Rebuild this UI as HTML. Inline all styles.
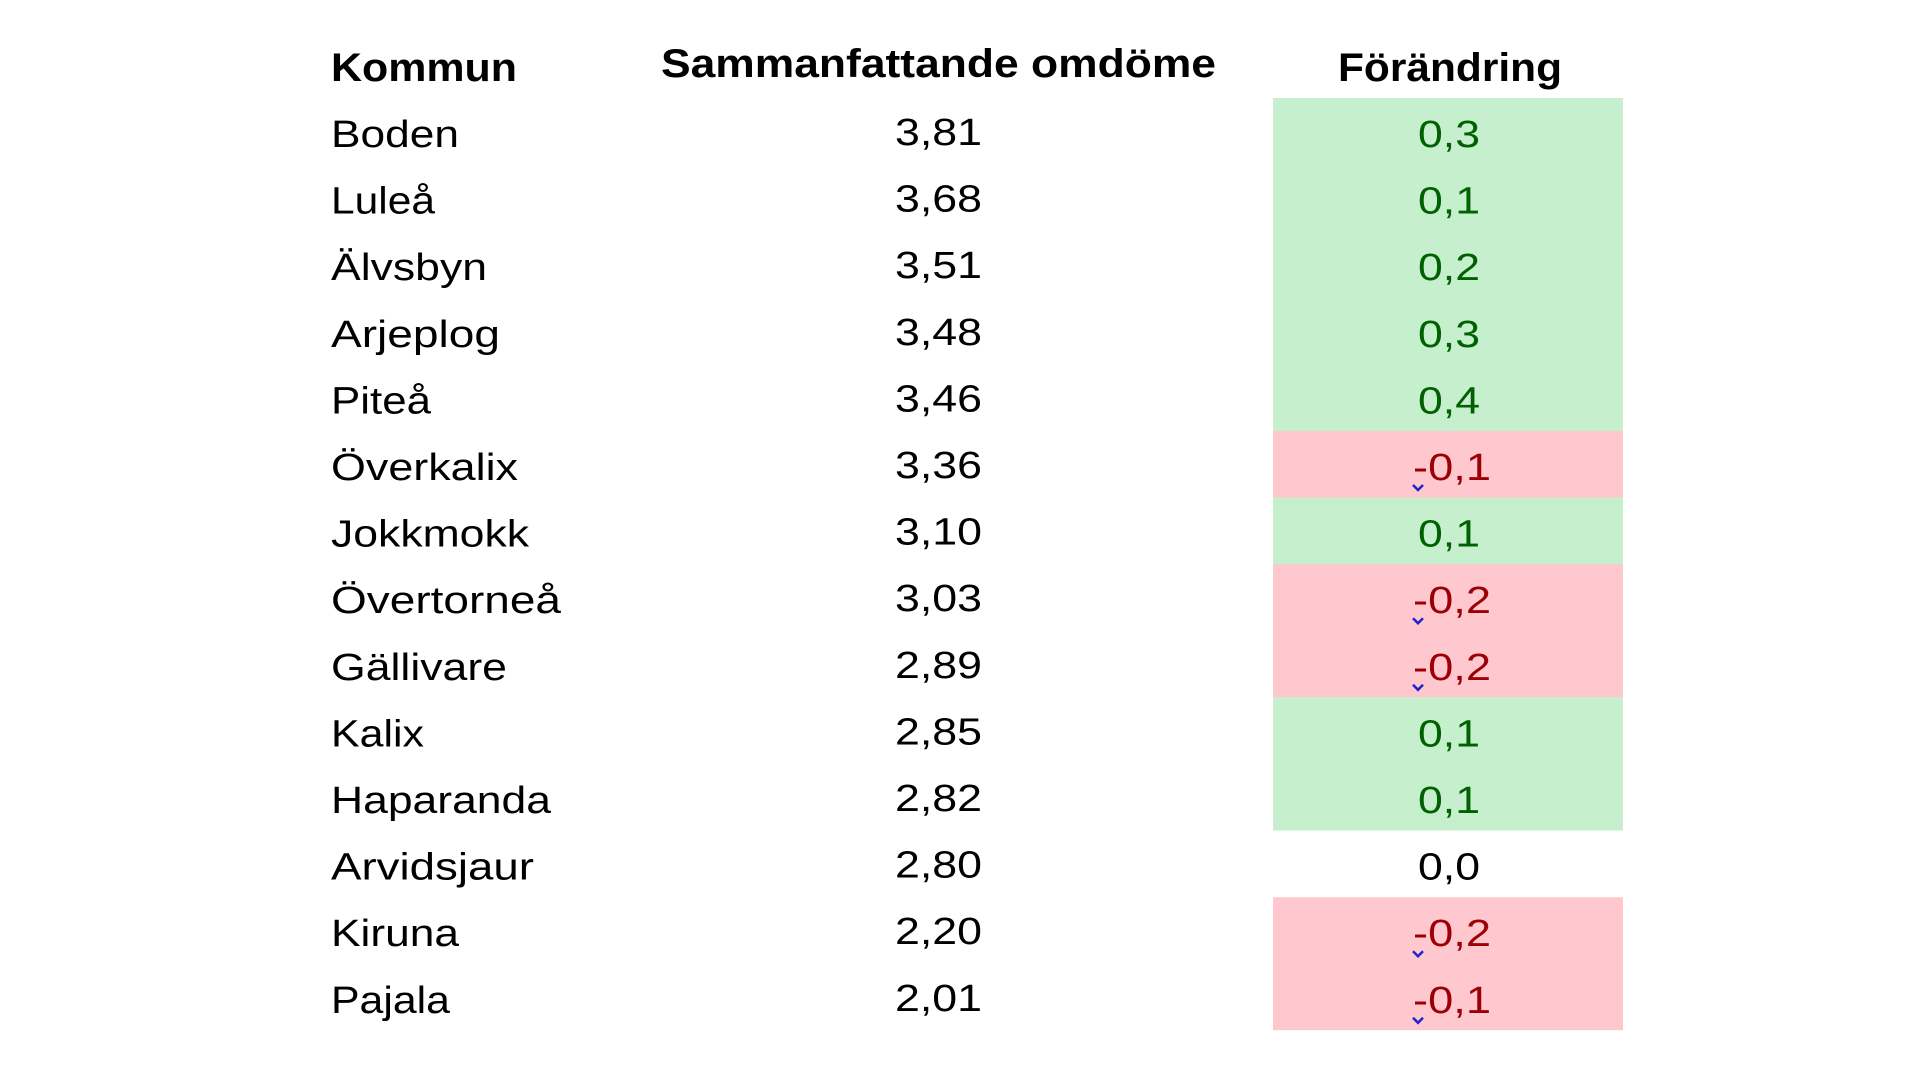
<!DOCTYPE html>
<html><head><meta charset="utf-8"><style>
html,body{margin:0;padding:0;background:#fff;}
svg{display:block;}
text{font-family:"Liberation Sans",sans-serif;}
</style></head><body>
<svg width="1920" height="1079" viewBox="0 0 1920 1079" xmlns="http://www.w3.org/2000/svg">
<rect width="1920" height="1079" fill="#fff"/>
<g font-weight="bold" font-size="40" fill="#000" transform="translate(0,-1)">
<text x="331" y="82" textLength="186" lengthAdjust="spacingAndGlyphs">Kommun</text>
<text x="661" y="78" textLength="555" lengthAdjust="spacingAndGlyphs">Sammanfattande omdöme</text>
<text x="1338" y="82" textLength="224" lengthAdjust="spacingAndGlyphs">Förändring</text>
</g>
<g>
<rect x="1273" y="98" width="350" height="333" fill="#c6efce"/>
<rect x="1273" y="431" width="350" height="67" fill="#ffc7ce"/>
<rect x="1273" y="497.6" width="350" height="67" fill="#c6efce"/>
<rect x="1273" y="564.2" width="350" height="133.2" fill="#ffc7ce"/>
<rect x="1273" y="697.4" width="350" height="133.2" fill="#c6efce"/>
<rect x="1273" y="897.2" width="350" height="133" fill="#ffc7ce"/>
</g>
<g transform="translate(0,-3)">
<g font-size="38" fill="#000">
<text x="331" y="150" textLength="128" lengthAdjust="spacingAndGlyphs">Boden</text>
<text x="331" y="216.6" textLength="104" lengthAdjust="spacingAndGlyphs">Luleå</text>
<text x="331" y="283.2" textLength="156" lengthAdjust="spacingAndGlyphs">Älvsbyn</text>
<text x="331" y="349.8" textLength="169" lengthAdjust="spacingAndGlyphs">Arjeplog</text>
<text x="331" y="416.4" textLength="100" lengthAdjust="spacingAndGlyphs">Piteå</text>
<text x="331" y="483" textLength="187" lengthAdjust="spacingAndGlyphs">Överkalix</text>
<text x="331" y="549.6" textLength="198" lengthAdjust="spacingAndGlyphs">Jokkmokk</text>
<text x="331" y="616.2" textLength="230" lengthAdjust="spacingAndGlyphs">Övertorneå</text>
<text x="331" y="682.8" textLength="176" lengthAdjust="spacingAndGlyphs">Gällivare</text>
<text x="331" y="749.4" textLength="93" lengthAdjust="spacingAndGlyphs">Kalix</text>
<text x="331" y="816" textLength="220" lengthAdjust="spacingAndGlyphs">Haparanda</text>
<text x="331" y="882.6" textLength="203" lengthAdjust="spacingAndGlyphs">Arvidsjaur</text>
<text x="331" y="949.2" textLength="128" lengthAdjust="spacingAndGlyphs">Kiruna</text>
<text x="331" y="1015.8" textLength="119" lengthAdjust="spacingAndGlyphs">Pajala</text>
</g>
<g font-size="38" fill="#000">
<text x="895" y="148" textLength="87" lengthAdjust="spacingAndGlyphs">3,81</text>
<text x="895" y="214.6" textLength="87" lengthAdjust="spacingAndGlyphs">3,68</text>
<text x="895" y="281.2" textLength="87" lengthAdjust="spacingAndGlyphs">3,51</text>
<text x="895" y="347.8" textLength="87" lengthAdjust="spacingAndGlyphs">3,48</text>
<text x="895" y="414.4" textLength="87" lengthAdjust="spacingAndGlyphs">3,46</text>
<text x="895" y="481" textLength="87" lengthAdjust="spacingAndGlyphs">3,36</text>
<text x="895" y="547.6" textLength="87" lengthAdjust="spacingAndGlyphs">3,10</text>
<text x="895" y="614.2" textLength="87" lengthAdjust="spacingAndGlyphs">3,03</text>
<text x="895" y="680.8" textLength="87" lengthAdjust="spacingAndGlyphs">2,89</text>
<text x="895" y="747.4" textLength="87" lengthAdjust="spacingAndGlyphs">2,85</text>
<text x="895" y="814" textLength="87" lengthAdjust="spacingAndGlyphs">2,82</text>
<text x="895" y="880.6" textLength="87" lengthAdjust="spacingAndGlyphs">2,80</text>
<text x="895" y="947.2" textLength="87" lengthAdjust="spacingAndGlyphs">2,20</text>
<text x="895" y="1013.8" textLength="87" lengthAdjust="spacingAndGlyphs">2,01</text>
</g>
<g font-size="38" fill="#006100">
<text x="1418" y="150" textLength="62" lengthAdjust="spacingAndGlyphs">0,3</text>
<text x="1418" y="216.6" textLength="62" lengthAdjust="spacingAndGlyphs">0,1</text>
<text x="1418" y="283.2" textLength="62" lengthAdjust="spacingAndGlyphs">0,2</text>
<text x="1418" y="349.8" textLength="62" lengthAdjust="spacingAndGlyphs">0,3</text>
<text x="1418" y="416.4" textLength="62" lengthAdjust="spacingAndGlyphs">0,4</text>
<text x="1418" y="549.6" textLength="62" lengthAdjust="spacingAndGlyphs">0,1</text>
<text x="1418" y="749.4" textLength="62" lengthAdjust="spacingAndGlyphs">0,1</text>
<text x="1418" y="816" textLength="62" lengthAdjust="spacingAndGlyphs">0,1</text>
<text x="1418" y="882.6" textLength="62" lengthAdjust="spacingAndGlyphs" fill="#000">0,0</text>
</g>
<g font-size="38" fill="#9c0006">
<text x="1413" y="483" textLength="78" lengthAdjust="spacingAndGlyphs">-0,1</text>
<text x="1413" y="616.2" textLength="78" lengthAdjust="spacingAndGlyphs">-0,2</text>
<text x="1413" y="682.8" textLength="78" lengthAdjust="spacingAndGlyphs">-0,2</text>
<text x="1413" y="949.2" textLength="78" lengthAdjust="spacingAndGlyphs">-0,2</text>
<text x="1413" y="1015.8" textLength="78" lengthAdjust="spacingAndGlyphs">-0,1</text>
</g>
<g stroke="#2222cc" stroke-width="2.5" fill="none">
<path d="M1413 488 l5 5 l5 -5"/>
<path d="M1413 621.2 l5 5 l5 -5"/>
<path d="M1413 687.8 l5 5 l5 -5"/>
<path d="M1413 954.2 l5 5 l5 -5"/>
<path d="M1413 1020.8 l5 5 l5 -5"/>
</g>
</g>
</svg>
</body></html>
